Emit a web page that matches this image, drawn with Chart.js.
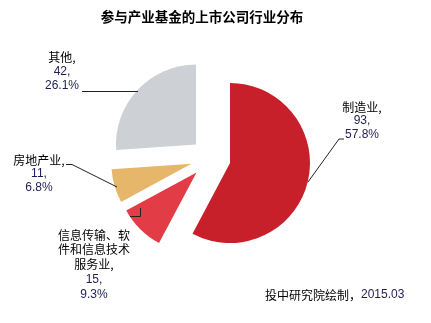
<!DOCTYPE html>
<html>
<head>
<meta charset="utf-8">
<script src="https://cdn.jsdelivr.net/npm/chart.js@4"></script>
<style>
  html, body { margin: 0; padding: 0; background: #fff; }
  canvas { display: block; }
</style>
</head>
<body>
<canvas id="industryChart" width="431" height="323"></canvas>
<script>
const industries = ["制造业", "信息传输、软件和信息技术服务业", "房地产业", "其他"];
const companyCounts = [93, 15, 11, 42];
// the long category name is wrapped over two lines in its label
const labelNameLines = [["制造业,"], ["信息传输、软", "件和信息技术", "服务业,"], ["房地产业,"], ["其他,"]];
const sliceColors = ["#c8202a", "#e23d46", "#e6b76b", "#cdd0d4"];

const titleText = "参与产业基金的上市公司行业分布";
const sourceText = "投中研究院绘制，";
const sourceDate = "2015.03";

// where each label block sits, and the leader line running from it to its slice
const labelLayout = [
  { x: 362, y: 107, step: 13.8, leader: [[344, 139], [339, 139], [308, 182]] },
  { x: 94, y: 235, step: 14.8, leader: [[130, 216.5], [140.5, 216.5], [140.5, 208]] },
  { x: 39, y: 160, step: 14, leader: [[66, 164.5], [72, 164.5], [117, 187]] },
  { x: 62, y: 57.5, step: 14, leader: [[82, 91.5], [138, 91.5]] }
];

const EXPLODE = 20;
const CJK = "'Noto Sans CJK SC'";
const LATIN = "'Liberation Sans', " + CJK;

const total = companyCounts.reduce((a, b) => a + b, 0);

// push every slice out from the centre along its middle angle
const explodePlugin = {
  id: "explode",
  afterDatasetUpdate(chart, args) {
    args.meta.data.forEach((arc) => {
      const mid = (arc.startAngle + arc.endAngle) / 2;
      arc.x += Math.cos(mid) * EXPLODE;
      arc.y += Math.sin(mid) * EXPLODE;
    });
  }
};

const textPlugin = {
  id: "texts",
  afterDraw(chart) {
    const ctx = chart.ctx;
    ctx.save();
    ctx.textBaseline = "middle";

    ctx.textAlign = "center";
    ctx.fillStyle = "#000";
    ctx.font = "bold 13.5px " + CJK;
    ctx.fillText(titleText, 202, 17);

    ctx.strokeStyle = "#222";
    ctx.lineWidth = 1;
    companyCounts.forEach((v, i) => {
      const lay = labelLayout[i];
      const lines = labelNameLines[i].concat([v + ",", (v / total * 100).toFixed(1) + "%"]);
      lines.forEach((line, k) => {
        const isName = k < labelNameLines[i].length;
        ctx.font = "12px " + (isName ? CJK : LATIN);
        ctx.fillStyle = isName ? "#000" : "#1e1e55";
        ctx.fillText(line, lay.x, lay.y + k * lay.step);
      });
      ctx.beginPath();
      lay.leader.forEach((p, k) => {
        if (k === 0) ctx.moveTo(p[0], p[1]);
        else ctx.lineTo(p[0], p[1]);
      });
      ctx.stroke();
    });

    ctx.textAlign = "left";
    ctx.font = "12px " + CJK;
    ctx.fillStyle = "#000";
    ctx.fillText(sourceText, 265, 295);
    const w = ctx.measureText(sourceText).width;
    ctx.font = "12px " + LATIN;
    ctx.fillStyle = "#1e1e55";
    ctx.fillText(sourceDate, 265 + w, 295);
    ctx.restore();
  }
};

new Chart(document.getElementById("industryChart"), {
  type: "pie",
  data: {
    labels: industries,
    datasets: [
      {
        data: companyCounts,
        backgroundColor: sliceColors,
        borderWidth: 0
      }
    ]
  },
  options: {
    responsive: false,
    animation: false,
    events: [],
    radius: 80,
    layout: { padding: { left: 0, right: 9.8, top: 0, bottom: 6.6 } },
    plugins: {
      legend: { display: false },
      tooltip: { enabled: false }
    }
  },
  plugins: [explodePlugin, textPlugin]
});
</script>
</body>
</html>
